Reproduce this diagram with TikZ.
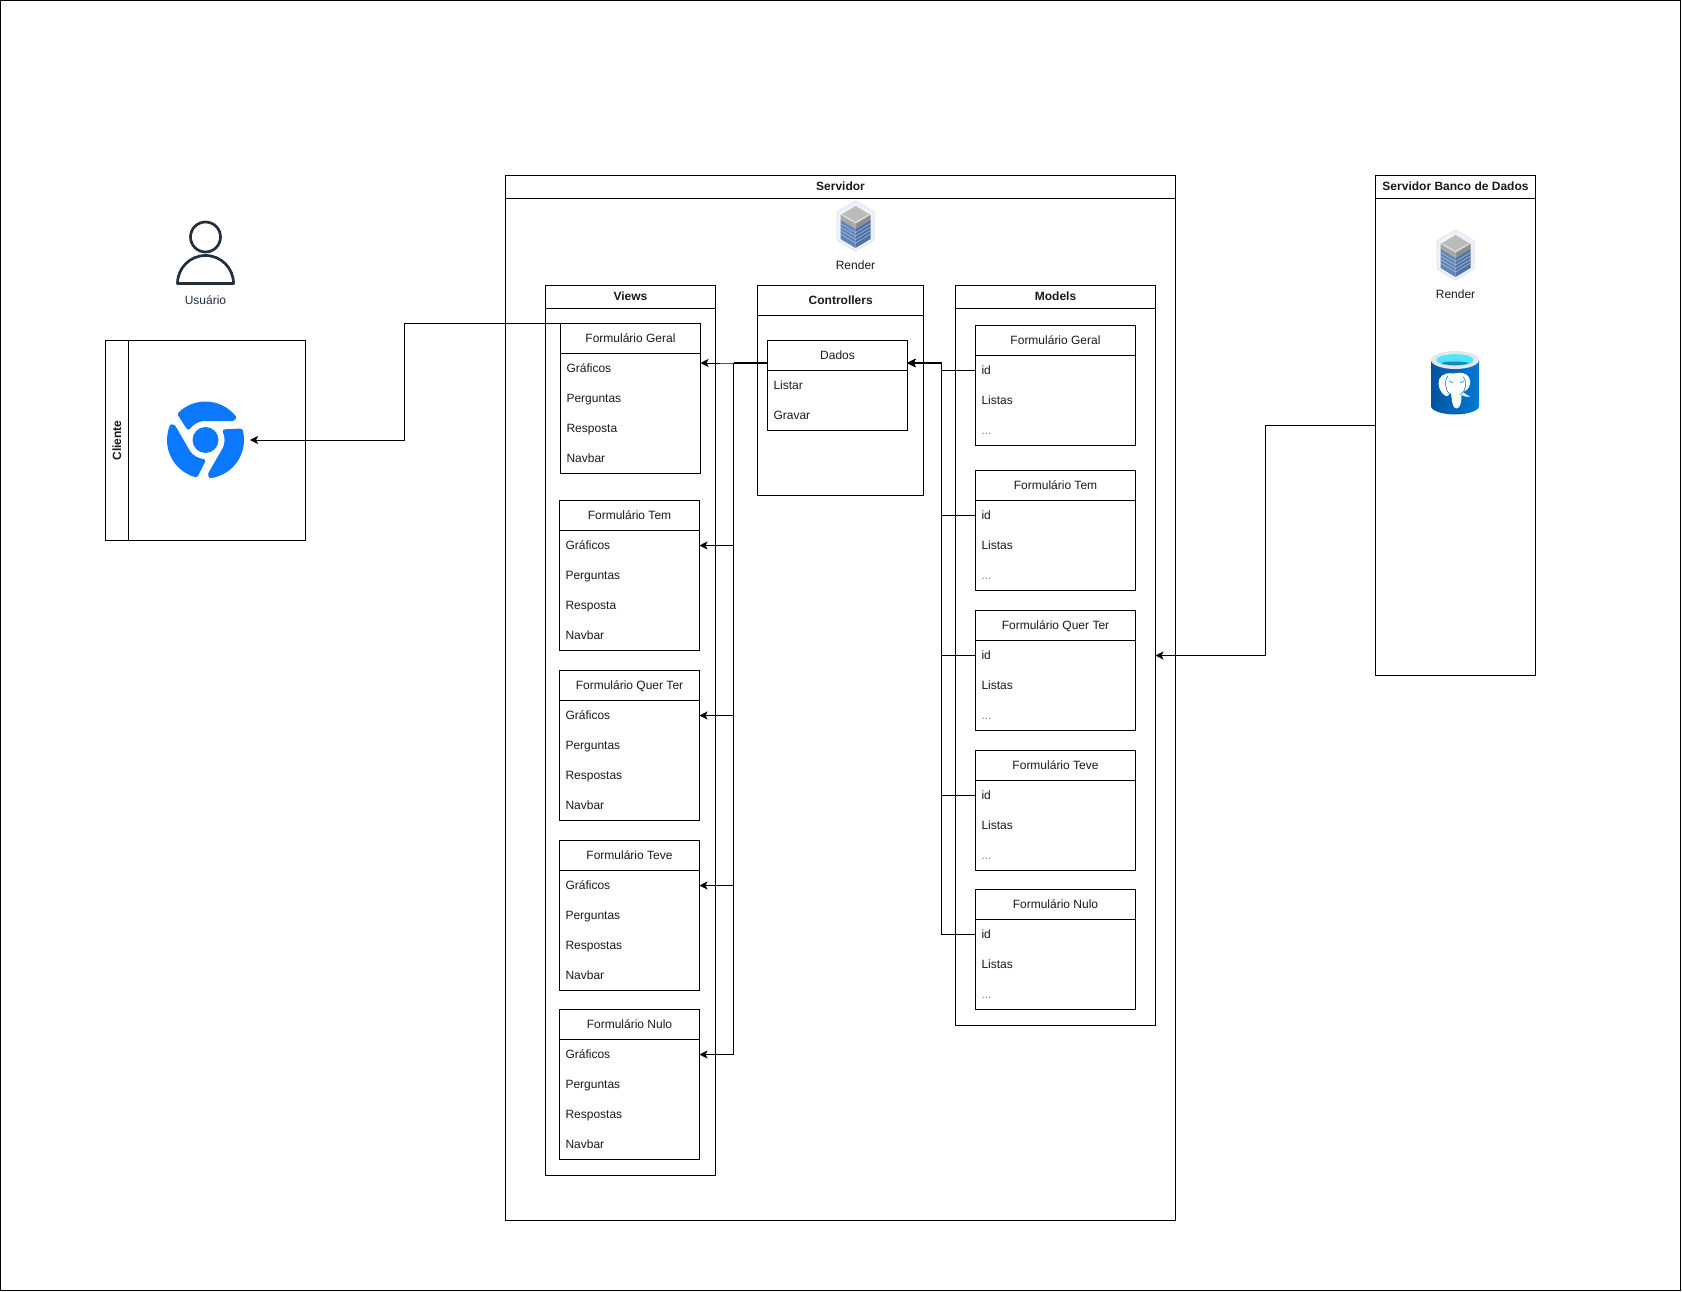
\documentclass[tikz,border=0pt]{standalone}
\usepackage{fontspec}
\setmainfont{Liberation Sans}
\usetikzlibrary{arrows.meta}
\definecolor{inktext}{HTML}{1A1A1A}
\definecolor{awsdark}{HTML}{232F3E}
\definecolor{chromeblue}{HTML}{0A78FF}
\definecolor{hexfill}{HTML}{EFF2F7}
\definecolor{hexline}{HTML}{DFE5EE}
\definecolor{racktop}{HTML}{BBBBBB}
\definecolor{rackleft}{HTML}{A8A8A8}
\definecolor{rackright}{HTML}{8E8E8E}
\definecolor{rackblue}{HTML}{6285B8}
\definecolor{rackdeep}{HTML}{4F72A8}
\definecolor{rackstripe}{HTML}{B4C3DC}
\definecolor{pgleft}{HTML}{0055A0}
\definecolor{pgright}{HTML}{0078D4}
\definecolor{pgrim}{HTML}{E4E7EA}
\definecolor{pgcyan}{HTML}{50E6FF}
\definecolor{pgdeep}{HTML}{198AB3}
\tikzset{
    every node/.style={font=\fontsize{12pt}{14pt}\selectfont,text=inktext,inner sep=0pt,outer sep=0pt},
    lane/.style={draw,line width=1pt,anchor=north west},
    lanehead/.style={lane,font=\fontsize{12pt}{14pt}\selectfont\bfseries,text height=10pt,text depth=2pt},
    formhead/.style={lane,text height=10pt,text depth=2pt},
    rowtext/.style={anchor=north west,minimum height=30pt,text height=10pt,text depth=2pt,inner xsep=6pt,align=left},
    seta/.style={line width=1pt,-{Stealth[length=8pt,width=8pt,inset=2pt]}},
    fiogrosso/.style={line width=2pt}
}
% server rack with hexagon behind
\newcommand{\servericon}[2]{
\begin{scope}[shift={(#1,#2)}]
    \draw[fill=hexfill,draw=hexline,line width=1pt,line join=round] (0,-25) -- (18.5,-14) -- (18.5,14) -- (0,25) -- (-18.5,14) -- (-18.5,-14) -- cycle;
    \fill[racktop] (0,-20) -- (15,-11) -- (0,-2) -- (-15,-11) -- cycle;
    \fill[rackleft] (-15,-11) -- (0,-2) -- (0,3) -- (-15,-6) -- cycle;
    \fill[rackright] (15,-11) -- (0,-2) -- (0,3) -- (15,-6) -- cycle;
    \draw[white,line width=.5pt] (-13,-11) -- (0,-3.5) -- (13,-11);
    \fill[rackblue] (-15,-6) -- (0,3) -- (0,22) -- (-15,13) -- cycle;
    \fill[rackdeep] (15,-6) -- (0,3) -- (0,22) -- (15,13) -- cycle;
    \foreach \d in {3.5,7,10.5,14}{
        \draw[rackstripe,line width=.5pt] (-15,-6+\d) -- (0,3+\d) -- (15,-6+\d);
    }
\end{scope}
}
\begin{document}
\begin{tikzpicture}[x=1pt,y=-1pt]
\useasboundingbox (0,0) rectangle (1682,1292);
\draw[line width=1pt] (0.5,0.5) rectangle (1680.5,1290.5);

%cliente
\node[lane,minimum width=200pt,minimum height=200pt] (cliente) at (105.5,340.5){};
\node[draw,line width=1pt,rotate=90,minimum width=200pt,minimum height=23pt,font=\fontsize{12pt}{14pt}\selectfont\bfseries,text height=10pt,text depth=2pt] (clientehead) at (117,440.5){Cliente};
\node[minimum size=89pt] (chrome) at (205.5,440){};
\fill[chromeblue] (chrome.center) circle (13);
\foreach \a in {0,120,240}{
    \begin{scope}[shift={(chrome.center)},y=1pt,rotate=\a]
        \filldraw[chromeblue,line width=4pt,line join=round] (135:36.5) arc[start angle=135,end angle=38,radius=36.5] -- (27,21) -- (-2,21) arc[start angle=95.4,end angle=144,radius=21.2] -- cycle;
    \end{scope}
}

%usuario
\draw[awsdark,line width=2.7pt] (205.5,237) circle (15);
\draw[awsdark,line width=2.7pt,line join=round] (177.5,283.5) arc[start angle=180,end angle=360,radius=28] -- cycle;
\node[text=awsdark] (usuario) at (205.5,300.5){Usuário};

%servidor
\node[lane,minimum width=670pt,minimum height=1045pt] (servidor) at (505.5,175.5){};
\node[lanehead,minimum width=670pt,minimum height=23pt] (servidorhead) at (505.5,175.5){Servidor};
\servericon{855.5}{226}
\node (render) at (855.5,265.5){Render};

%views
\node[lane,minimum width=170pt,minimum height=890pt] (views) at (545.5,285.5){};
\node[lanehead,minimum width=170pt,minimum height=23pt] (viewshead) at (545.5,285.5){Views};
\foreach \n/\x/\y/\t/\r in {vgeral/560.5/323.5/Formulário Geral/Resposta, vtem/559.5/500.5/Formulário Tem/Resposta, vquer/559.5/670.5/Formulário Quer Ter/Respostas, vteve/559.5/840.5/Formulário Teve/Respostas, vnulo/559.5/1009.5/Formulário Nulo/Respostas}{
    \node[lane,minimum width=140pt,minimum height=150pt] (\n) at (\x,\y){};
    \node[formhead,minimum width=140pt,minimum height=30pt] (\n-head) at (\x,\y){\t};
    \node[rowtext,minimum width=140pt,text width=128pt] (\n-a) at (\x,\y+30){Gráficos};
    \node[rowtext,minimum width=140pt,text width=128pt] (\n-b) at (\x,\y+60){Perguntas};
    \node[rowtext,minimum width=140pt,text width=128pt] (\n-c) at (\x,\y+90){\r};
    \node[rowtext,minimum width=140pt,text width=128pt] (\n-d) at (\x,\y+120){Navbar};
}

%controllers
\node[lane,minimum width=165.8pt,minimum height=210pt] (controllers) at (757.8,285.5){};
\node[lanehead,minimum width=165.8pt,minimum height=30pt] (controllershead) at (757.8,285.5){Controllers};
\node[lane,minimum width=140pt,minimum height=90pt] (dados) at (767.5,340.5){};
\node[formhead,minimum width=140pt,minimum height=30pt] (dados-head) at (767.5,340.5){Dados};
\node[rowtext,minimum width=140pt,text width=128pt] (dados-a) at (767.5,370.5){Listar};
\node[rowtext,minimum width=140pt,text width=128pt] (dados-b) at (767.5,400.5){Gravar};
\coordinate (dadosw) at (767.5,363);
\coordinate (dadose) at (907.5,363);
\coordinate (vgeralin) at (700.5,363);
\coordinate (busviews) at (733.5,363);
\coordinate (busmodels) at (941.5,363);

%models
\node[lane,minimum width=200pt,minimum height=740pt] (models) at (955.5,285.5){};
\node[lanehead,minimum width=200pt,minimum height=23pt] (modelshead) at (955.5,285.5){Models};
\foreach \n/\y/\t in {mgeral/325.5/Formulário Geral, mtem/470.5/Formulário Tem, mquer/610.5/Formulário Quer Ter, mteve/750.5/Formulário Teve, mnulo/889.5/Formulário Nulo}{
    \node[lane,minimum width=160pt,minimum height=120pt] (\n) at (975.5,\y){};
    \node[formhead,minimum width=160pt,minimum height=30pt] (\n-head) at (975.5,\y){\t};
    \node[rowtext,minimum width=160pt,text width=148pt] (\n-a) at (975.5,\y+30){id};
    \node[rowtext,minimum width=160pt,text width=148pt] (\n-b) at (975.5,\y+60){Listas};
    \node[rowtext,minimum width=160pt,text width=148pt,text=inktext!55] (\n-c) at (975.5,\y+90){...};
}

%banco
\node[lane,minimum width=160pt,minimum height=500pt] (banco) at (1375.5,175.5){};
\node[lanehead,minimum width=160pt,minimum height=23pt] (bancohead) at (1375.5,175.5){Servidor Banco de Dados};
\servericon{1455.5}{255}
\node (renderbanco) at (1455.5,294.5){Render};
%postgres
\shade[left color=pgleft,right color=pgright] (1431,360) -- (1431,406) .. controls (1431,411) and (1443,414.5) .. (1455,414.5) .. controls (1467,414.5) and (1479,411) .. (1479,406) -- (1479,360) -- cycle;
\fill[pgrim] (1455,360) ellipse (24 and 9);
\fill[pgcyan] (1455,360) ellipse (18.7 and 5.8);
\fill[pgdeep] (1441,363) .. controls (1447,361) and (1463,361) .. (1469,363) .. controls (1465,365.8) and (1445,365.8) .. (1441,363) -- cycle;
\fill[white] (1452,373.5) .. controls (1444,372) and (1438,377) .. (1438.5,384) .. controls (1439,390) and (1443,395) .. (1446,396) .. controls (1449,397) and (1450,392) .. (1451,393) .. controls (1452,400) and (1452,408.5) .. (1456.5,408.5) .. controls (1461,408.5) and (1461.5,400) .. (1461.5,395) .. controls (1464,396.5) and (1467,397) .. (1470,396.5) .. controls (1467,395) and (1465,394) .. (1463,392) .. controls (1469,390) and (1471,384) .. (1470,380) .. controls (1469,375) and (1464,372) .. (1458,373) -- cycle;
\draw[pgright,line width=.6pt] (1447.7,375.7) .. controls (1444,381) and (1445,390) .. (1450,395) (1463.3,376.7) .. controls (1468,382) and (1466,391) .. (1460,395) (1449,381) -- (1453,383) (1464,381) -- (1460,383);

%connectors
\draw[seta] (vgeral.north west) -| (404.5,440) -- (chrome.east);
\draw[seta] (banco.west) -| (1265.5,655.5) -- (models.east);
\draw[seta] (dadosw) -- (busviews) -- (vgeralin);
\foreach \n in {vtem,vquer,vteve,vnulo}{
    \draw[seta] (busviews) |- (\n-a.east);
}
\foreach \n in {mgeral,mtem,mquer,mteve,mnulo}{
    \draw[seta] (\n-a.west) -| (busmodels) -- (dadose);
}
\draw[fiogrosso] (dadosw) -- (busviews);
\draw[fiogrosso] (busmodels) -- (dadose);
\end{tikzpicture}
\end{document}
